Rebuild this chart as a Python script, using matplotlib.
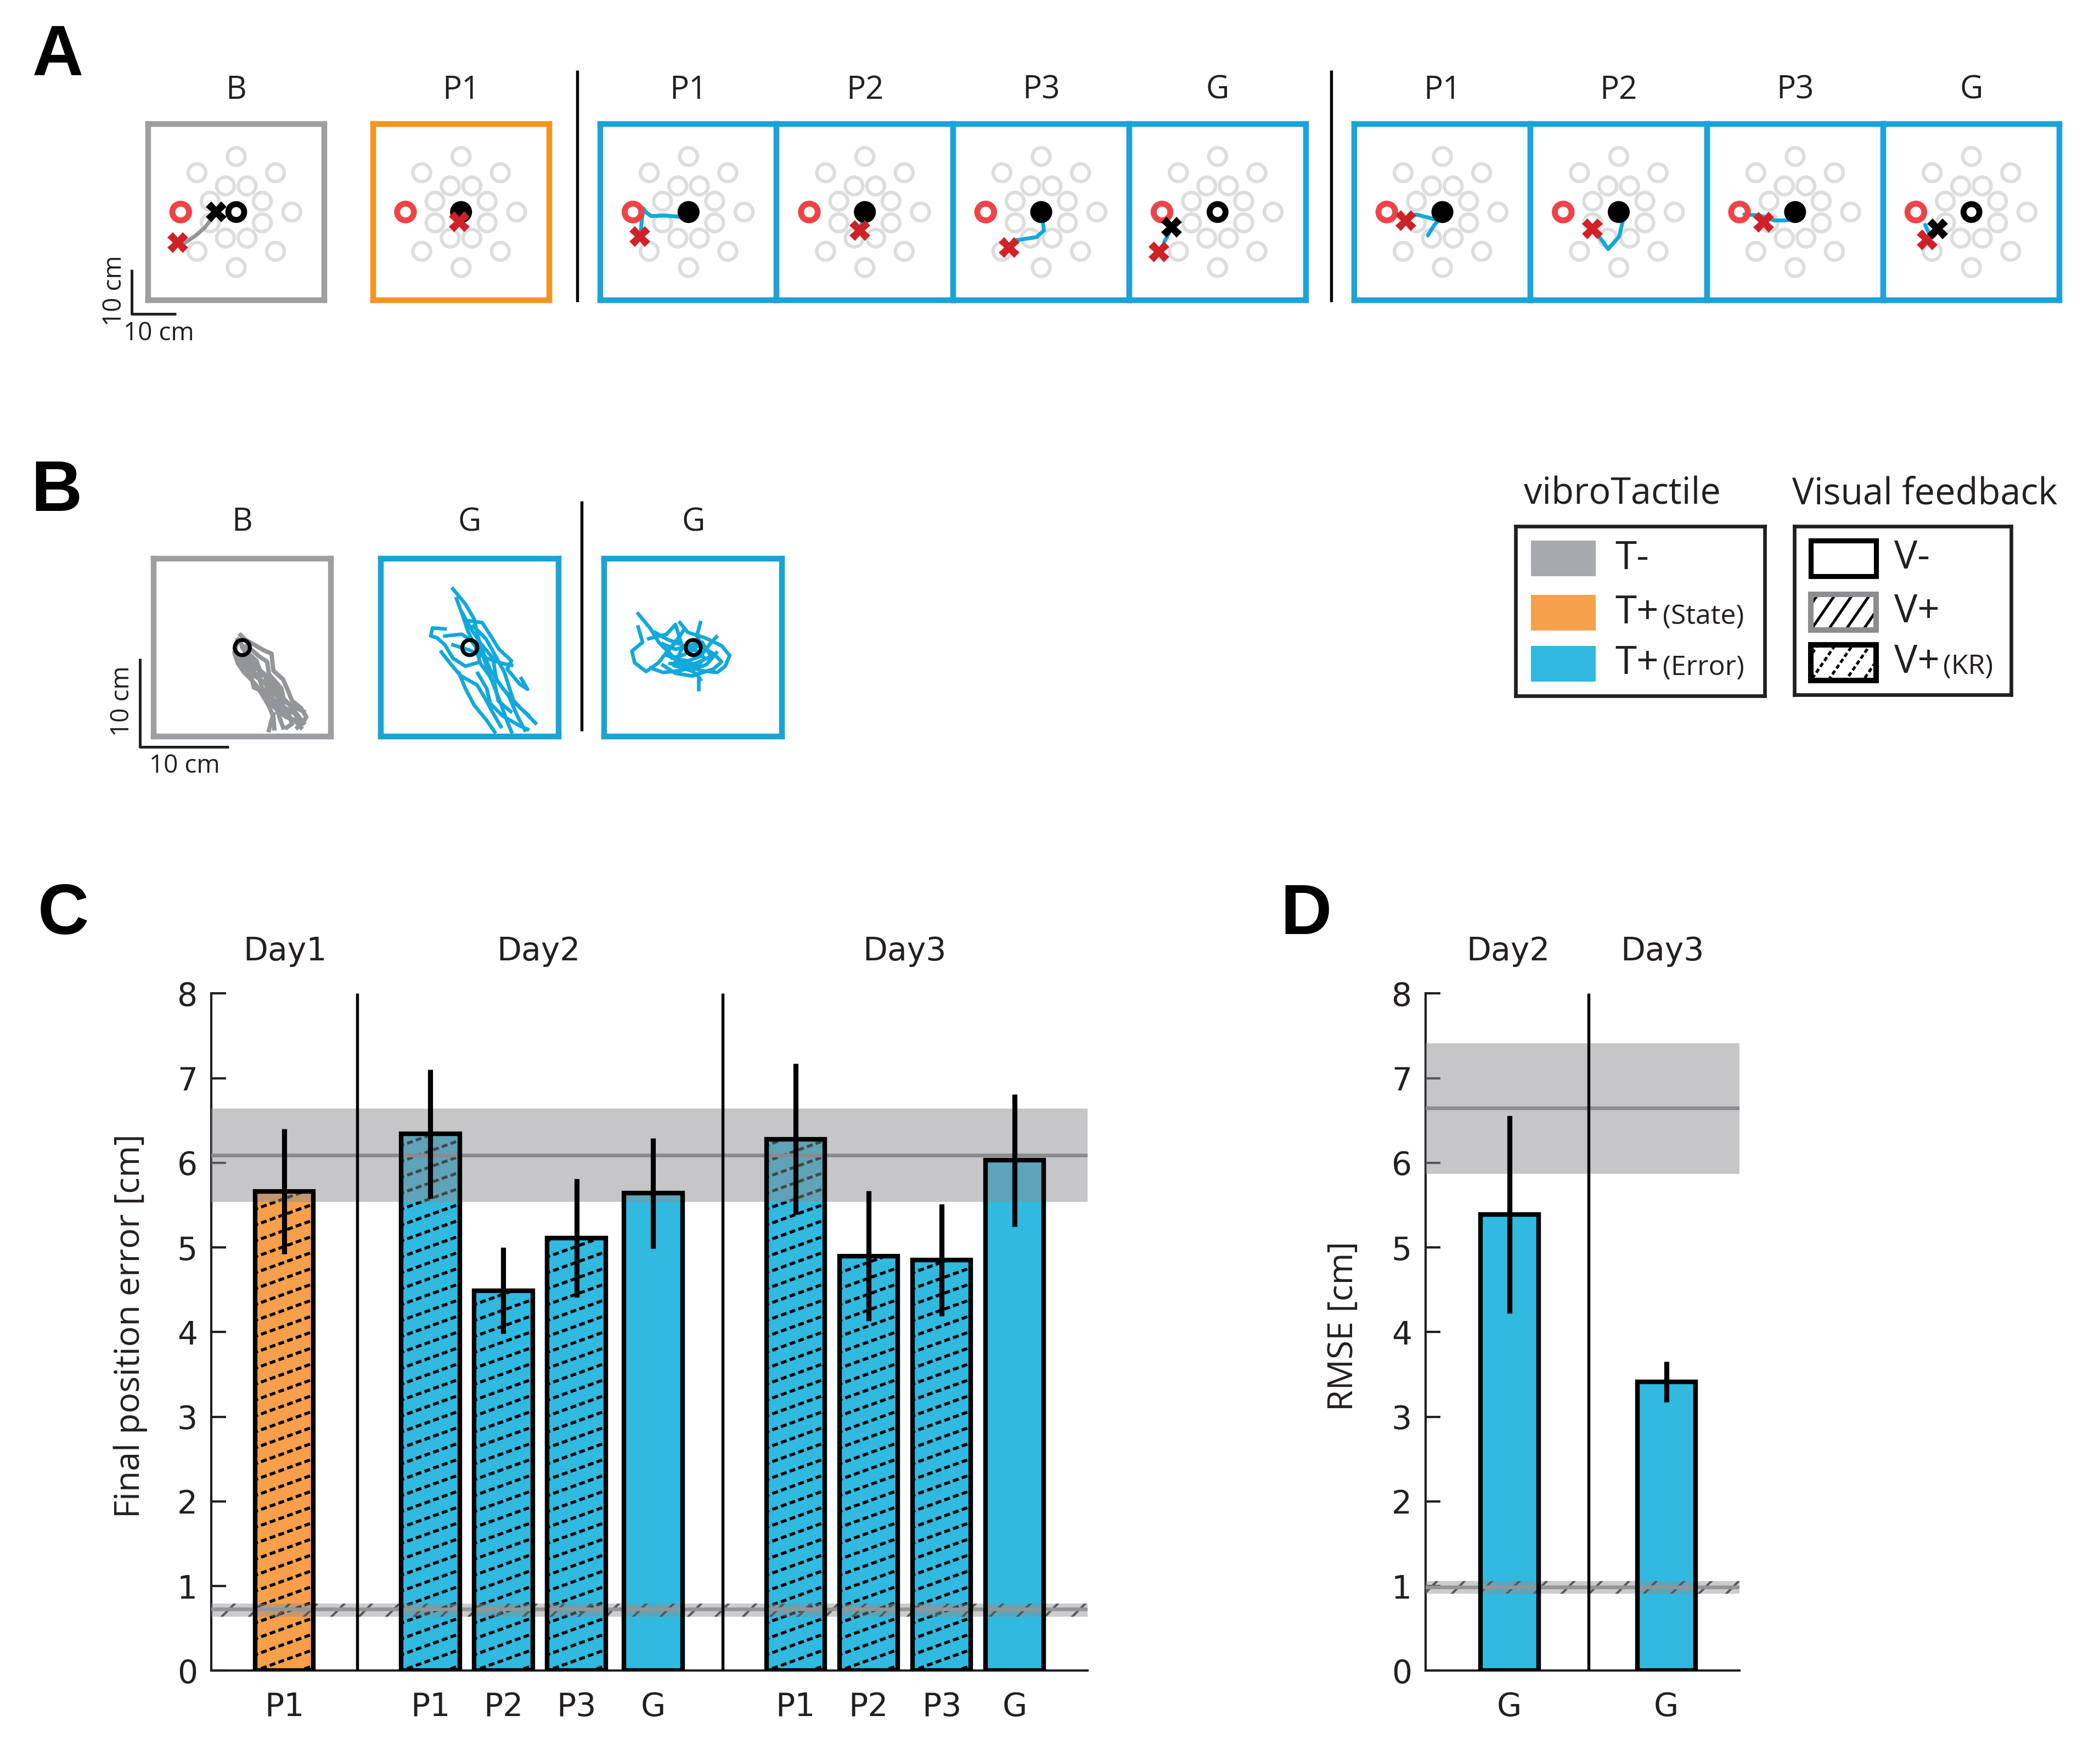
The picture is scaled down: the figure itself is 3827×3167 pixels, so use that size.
import numpy as np
import matplotlib
matplotlib.use("Agg")
import matplotlib.pyplot as plt
from matplotlib.patches import Rectangle, Circle
from matplotlib.lines import Line2D
from matplotlib.transforms import IdentityTransform, blended_transform_factory

# ----------------------------------------------------------------- data ----
# Panel C: final position error [cm]
c_days = ["Day1", "Day2", "Day3"]
c_labels = ["P1", "P1", "P2", "P3", "G", "P1", "P2", "P3", "G"]
c_tactile = ["state", "error", "error", "error", "error", "error", "error", "error", "error"]
c_visual = ["KR", "KR", "KR", "KR", "none", "KR", "KR", "KR", "none"]
c_mean = [5.66, 6.34, 4.49, 5.11, 5.64, 6.28, 4.90, 4.85, 6.03]
c_sem = [0.74, 0.76, 0.51, 0.70, 0.65, 0.89, 0.77, 0.66, 0.78]
c_ref_none = [5.54, 6.09, 6.64]    # T-/V- reference: low, mean, high
c_ref_vis = [0.64, 0.73, 0.79]     # T-/V+ reference: low, mean, high

# Panel D: RMSE [cm]
d_days = ["Day2", "Day3"]
d_labels = ["G", "G"]
d_mean = [5.39, 3.41]
d_sem = [1.17, 0.24]
d_ref_none = [5.87, 6.65, 7.41]
d_ref_vis = [0.91, 0.99, 1.06]

# Panel A: example trials (cm, box centre = 0,0)
a_titles = ["B", "P1", "P1", "P2", "P3", "G", "P1", "P2", "P3", "G"]
a_tactile = ["none", "state", "error", "error", "error", "error", "error", "error", "error", "error"]
a_home_filled = [False, True, True, True, True, False, True, True, True, False]
a_red_cross = [(-13.3, -6.9), (-0.4, -2.2), (-11.0, -5.5), (-1.2, -4.2), (-7.3, -8.0),
               (-13.3, -9.1), (-8.3, -1.9), (-6.0, -3.8), (-7.2, -2.3), (-10.0, -6.3)]
a_black_cross = [(-4.6, 0.0), None, None, None, None, (-10.4, -3.4), None, None, None, (-7.7, -3.8)]
a_paths = [
    [(-12.0, -7.2), (-9.4, -5.5), (-7.2, -3.6), (-5.5, -1.4)],
    [],
    [(-1.8, -1.1), (-5.2, -0.8), (-8.5, -0.9), (-9.7, 0.0), (-10.2, 0.8), (-10.6, -1.7), (-10.8, -4.2)],
    [(-0.9, -3.0), (-0.3, -1.7)],
    [(-5.6, -6.4), (-1.1, -5.7), (0.6, -4.2), (0.3, -1.7), (0.0, -0.9)],
    [(-12.1, -6.8), (-11.0, -4.7)],
    [(-3.3, -5.3), (-1.8, -2.9), (-0.9, -1.9), (-3.0, -1.3), (-5.8, -0.6), (-7.5, -0.8)],
    [(1.0, -1.7), (0.1, -5.5), (-2.4, -8.4), (-3.9, -6.3), (-5.6, -4.2)],
    [(-11.5, -0.5), (-8.1, -0.8), (-4.7, -1.9), (-1.8, -1.9), (-0.7, -1.3)],
    [(-10.5, -2.9), (-9.5, -5.1)],
]
target_outer_r = 12.6
target_inner_r = 6.4
target_red_angle = 180.0

# Panel B: tracking trajectories (cm)
b_titles = ["B", "G", "G"]
b_tactile = ["none", "error", "error"]
b_paths = [
    [
        [(-0.2, 1.4), (0.3, 0.9), (1.2, 0.4), (2.4, -0.3), (3.3, -0.7), (3.4, -1.8), (3.5, -2.6), (4.6, -3.6),
         (5.2, -5.0), (5.6, -6.0), (6.6, -6.8), (7.2, -7.8), (6.8, -8.5), (6.2, -9.0)],
        [(-0.6, 0.6), (-0.9, -0.6), (-0.5, -1.8), (0.2, -2.8), (1.0, -3.6), (1.6, -4.3), (2.3, -5.4),
         (3.0, -6.6), (3.5, -7.8), (3.6, -9.1)],
        [(0.0, 0.0), (0.8, -1.2), (1.6, -2.2), (2.5, -3.0), (2.9, -4.3), (3.8, -5.2), (4.4, -6.5),
         (5.2, -7.4), (5.6, -8.6), (5.0, -9.0)],
        [(0.3, -0.5), (1.1, -1.9), (1.4, -3.2), (2.6, -4.0), (3.2, -5.6), (4.0, -6.3), (4.6, -7.6),
         (5.9, -8.2), (6.6, -9.0)],
        [(-0.4, -1.0), (0.6, -2.0), (1.9, -2.5), (2.0, -3.8), (3.6, -4.4), (4.1, -5.8), (4.8, -6.8),
         (6.0, -7.5), (6.4, -8.4)],
        [(0.5, 0.2), (1.9, -1.0), (2.8, -1.6), (3.0, -3.0), (4.4, -4.6), (4.7, -6.0), (5.5, -6.5), (6.9, -7.2)],
        [(-0.8, -0.2), (-0.2, -1.5), (0.9, -2.9), (1.3, -4.5), (2.5, -5.0), (2.9, -6.0), (3.9, -7.0),
         (4.3, -8.2), (4.6, -9.0)],
        [(3.5, -7.5), (3.2, -8.5), (3.0, -9.3)],
        [(0.2, -1.0), (1.0, -2.6), (2.0, -3.3), (2.2, -4.6), (3.3, -5.2), (3.6, -6.2), (4.9, -7.8), (5.8, -8.1)],
        [(-0.5, 0.9), (0.6, -0.6), (1.6, -1.5), (2.1, -2.9), (3.1, -3.6), (3.9, -4.5), (4.2, -5.3), (5.1, -6.2),
         (6.3, -7.7), (6.9, -8.5)],
    ],
    [
        [(-1.9, 6.6), (-0.5, 4.9), (0.5, 3.2), (0.9, 1.3), (1.4, -0.3), (2.3, -2.5), (3.7, -4.6), (5.6, -6.7),
         (7.4, -8.5)],
        [(-2.8, 2.1), (-4.2, 2.2), (-4.4, 1.3), (-3.7, 1.1), (-2.8, 0.3), (-1.9, -1.2), (-0.5, -2.1), (0.9, -1.7)],
        [(-1.2, -2.9), (-0.5, -4.6), (0.5, -6.5), (1.9, -8.2), (2.8, -9.5)],
        [(0.0, 3.0), (1.4, 2.8), (2.3, 1.4), (3.3, -0.2), (4.7, -1.5), (4.2, -2.4), (5.6, -4.1), (6.5, -4.7),
         (5.8, -3.5)],
        [(-2.8, 1.3), (-0.9, 1.5), (0.0, 0.9), (1.4, -0.7), (2.3, -3.3), (3.3, -5.8), (4.2, -8.3), (4.7, -9.5)],
        [(0.9, -2.9), (1.9, -4.6), (2.3, -6.3), (3.7, -7.7), (5.6, -8.8), (6.5, -9.2)],
        [(-1.9, 0.3), (0.0, -0.3), (1.9, -1.2), (3.7, -1.8), (4.7, -2.0)],
        [(-0.9, 4.0), (0.2, 2.0), (1.2, 0.5), (2.6, -1.2), (3.0, -3.6), (4.4, -5.5), (5.4, -7.8), (6.2, -9.3)],
        [(-3.2, -0.5), (-2.2, -1.8), (-1.0, -3.2), (0.8, -4.2), (1.6, -5.5), (2.4, -7.0), (3.5, -8.9)],
        [(0.4, 2.4), (1.8, 1.0), (2.6, -0.4), (3.9, -2.8), (4.6, -5.0), (5.0, -6.2), (6.6, -7.6)],
        [(-1.5, 5.5), (-0.8, 3.6), (-0.2, 1.8), (0.6, 0.2), (1.2, -1.8), (2.8, -4.0), (3.2, -6.0), (4.6, -7.2)],
    ],
    [
        [(-6.2, 3.8), (-4.8, 2.1), (-3.9, 0.6), (-2.4, -0.9), (-1.0, -2.1), (0.4, -3.0), (0.8, -3.6)],
        [(-6.2, 2.3), (-5.7, 0.6), (-6.9, -0.4), (-6.6, -1.7), (-5.3, -2.7), (-3.9, -1.7), (-2.9, -0.4),
         (-1.5, 1.3), (-1.0, 2.1)],
        [(-1.5, 2.8), (-0.6, 1.7), (1.3, 1.1), (3.2, 0.2), (4.1, -0.9), (3.6, -2.1), (2.7, -2.8), (0.8, -2.6),
         (-1.0, -1.7), (-2.9, -0.9)],
        [(0.8, 2.8), (0.4, 1.3), (1.1, 0.0), (2.3, -0.7), (3.2, -1.6), (2.3, -2.4), (-0.1, -3.2), (-2.0, -2.9),
         (-3.4, -2.0)],
        [(-4.3, 1.7), (-2.9, 0.9), (-1.0, 0.2), (0.4, -0.4), (1.3, -1.2), (0.4, -2.1), (-1.5, -2.6),
         (-3.4, -2.8), (-4.8, -2.3)],
        [(0.6, -3.4), (0.6, -4.7)],
        [(-3.4, 0.4), (-2.0, -0.2), (-0.6, 0.1), (0.4, 0.6), (-1.0, -0.8), (-2.4, -1.2), (-0.6, -1.5),
         (0.8, -1.0), (1.8, 0.3), (2.6, 1.2)],
        [(-5.0, 1.0), (-3.0, 1.5), (-2.0, 2.6), (-1.2, 0.0), (-2.2, -2.0), (-0.3, -2.6), (1.5, -1.9), (2.6, -0.6)],
        [(-3.0, -0.6), (-1.8, 0.8), (-0.4, -0.6), (1.0, 0.6), (2.0, -1.0), (0.2, -1.8), (-2.6, -1.8)],
    ],
]

# ------------------------------------------------------------- styling ----
ORANGE = "#f6a04b"
BLUE = "#31b9e0"
GRAY_T = "#a7a9ac"
BOX_COL = {"none": "#9d9fa2", "state": "#f7931e", "error": "#1aa3d9"}
BAR_COL = {"state": ORANGE, "error": BLUE}
TRAJ_COL = {"none": "#939598", "error": "#12a8dc"}
RED_RING = "#ee4347"
RED_X = "#cf2127"
TXT = "#231f20"
BAND_GRAY = "#8e8f92"

W, H, DPI = 3827, 3167, 300
fig = plt.figure(figsize=(W / DPI, H / DPI), dpi=DPI)
DW, DH = 1560.0, 1291.0   # layout frame


def fx(x):
    return x / DW


def fy(y):
    return 1.0 - y / DH


def axes_px(x0, y0, x1, y1):
    return fig.add_axes([fx(x0), fy(y1), (x1 - x0) / DW, (y1 - y0) / DH])


def fig_line(xs, ys, lw=1.3, color="black"):
    fig.add_artist(Line2D([fx(v) for v in xs], [fy(v) for v in ys], lw=lw, color=color,
                          transform=fig.transFigure, solid_capstyle="butt"))


LAB_FONT = ["Open Sans", "DejaVu Sans"]
NUM_FONT = ["DejaVu Sans"]


def clipped_hatch(ax, patch, rect_disp, sv, slope, lw=1.3, ls=(0, (2.0, 1.1)), color="black", z=2.2):
    x0, y0, x1, y1 = rect_disp
    w = x1 - x0
    k0 = int(np.floor(-(slope * w + 20) / sv)) - 1
    k1 = int(np.ceil((y1 - y0 + 20) / sv)) + 1
    for k in range(k0, k1):
        yb = y0 + k * sv
        ln = Line2D([x0 - 5, x1 + 5], [yb - 5 * slope, yb + slope * (w + 5)], lw=lw, color=color,
                    linestyle=ls, transform=IdentityTransform(), zorder=z)
        ax.add_artist(ln)
        ln.set_clip_path(patch)


def box_axes(x0, y0, size, lim, edge):
    ax = axes_px(x0, y0, x0 + size, y0 + size)
    ax.set_xlim(-lim, lim)
    ax.set_ylim(-lim, lim)
    ax.set_xticks([])
    ax.set_yticks([])
    for s in ax.spines.values():
        s.set_color(edge)
        s.set_linewidth(2.5)
    return ax


# --------------------------------------------------------------- panel A ----
a_left = [110, 277, 446, 577, 708, 839, 1006, 1137, 1268, 1399]
a_top, a_size = 92, 131
for i, x0 in enumerate(a_left):
    ax = box_axes(x0, a_top, a_size, 20, BOX_COL[a_tactile[i]])
    for ring, off in ((target_outer_r, 0.0), (target_inner_r, 22.5)):
        for ang in np.arange(8) * 45.0 + off:
            if ring == target_outer_r and ang == target_red_angle:
                continue
            ax.add_patch(Circle((ring * np.cos(np.radians(ang)), ring * np.sin(np.radians(ang))), 2.0,
                                fill=False, ec="#dcddde", lw=1.5, zorder=1))
    ax.add_patch(Circle((target_outer_r * np.cos(np.radians(target_red_angle)),
                         target_outer_r * np.sin(np.radians(target_red_angle))), 1.9,
                        fill=False, ec=RED_RING, lw=2.6, zorder=3))
    if a_home_filled[i]:
        ax.add_patch(Circle((0, 0), 2.1, fc="black", ec="black", lw=1.5, zorder=3))
    else:
        ax.add_patch(Circle((0, 0), 1.8, fill=False, ec="black", lw=2.6, zorder=3))
    path = a_paths[i]
    if path:
        px, py = zip(*path)
        col = TRAJ_COL["none"] if a_tactile[i] == "none" else TRAJ_COL["error"]
        ax.plot(px, py, color=col, lw=1.7, zorder=2, solid_capstyle="round")
    rx, ry = a_red_cross[i]
    ax.plot([rx], [ry], marker="X", ms=9, color=RED_X, mew=0, zorder=5)
    if a_black_cross[i] is not None:
        bx, by = a_black_cross[i]
        ax.plot([bx], [by], marker="X", ms=9, color="black", mew=0, zorder=5)
    fig.text(fx(x0 + a_size / 2), fy(67), a_titles[i], ha="center", va="center", fontsize=14,
             family=LAB_FONT, color=TXT)

fig_line([429, 429], [52, 224])
fig_line([989, 989], [52, 224])
# scale bar
fig_line([98, 98, 131], [200, 233, 233], lw=1.2, color=TXT)
fig.text(fx(85), fy(216), "10 cm", rotation=90, ha="center", va="center", fontsize=11, family=LAB_FONT, color=TXT)
fig.text(fx(118), fy(248), "10 cm", ha="center", va="center", fontsize=11, family=LAB_FONT, color=TXT)

# --------------------------------------------------------------- panel B ----
b_left = [114, 283, 449]
b_top, b_size = 415, 132
for i, x0 in enumerate(b_left):
    ax = box_axes(x0, b_top, b_size, 10, BOX_COL[b_tactile[i]])
    col = TRAJ_COL[b_tactile[i]]
    for stroke in b_paths[i]:
        px, py = zip(*stroke)
        ax.plot(px, py, color=col, lw=1.9 if b_tactile[i] == "none" else 1.6, zorder=2,
                solid_joinstyle="round")
    ax.add_patch(Circle((0, 0), 0.85, fill=False, ec="black", lw=1.7, zorder=4))
    fig.text(fx(x0 + b_size / 2), fy(388), b_titles[i], ha="center", va="center", fontsize=14,
             family=LAB_FONT, color=TXT)
fig_line([432, 432], [372, 543])
fig_line([104, 104, 170], [489, 555, 555], lw=1.2, color=TXT)
fig.text(fx(91), fy(521), "10 cm", rotation=90, ha="center", va="center", fontsize=11, family=LAB_FONT, color=TXT)
fig.text(fx(137), fy(569), "10 cm", ha="center", va="center", fontsize=11, family=LAB_FONT, color=TXT)

# -------------------------------------------------------------- legend ------
fig.text(fx(1205), fy(367), "vibroTactile", ha="center", va="center", fontsize=16, family=LAB_FONT, color=TXT)
fig.text(fx(1430), fy(367), "Visual feedback", ha="center", va="center", fontsize=16, family=LAB_FONT, color=TXT)


def legend_axes(x0, y0, x1, y1):
    ax = axes_px(x0, y0, x1, y1)
    ax.set_xlim(0, 1)
    ax.set_ylim(0, 1)
    ax.set_xticks([])
    ax.set_yticks([])
    for s in ax.spines.values():
        s.set_linewidth(1.6)
        s.set_color(TXT)
    return ax


def two_part_label(ax, x, y, big, small):
    t = ax.text(x, y, big, ha="left", va="center", fontsize=17, family=LAB_FONT, color=TXT,
                transform=ax.transAxes)
    if small:
        ax.annotate(small, xy=(1.0, 0.05), xycoords=t, xytext=(1.5, 0), textcoords="offset points",
                    ha="left", va="bottom", fontsize=12, family=LAB_FONT, color=TXT)


row_y = [0.81, 0.49, 0.19]
ph = 0.21
lt = legend_axes(1126, 391, 1311, 517)
for yy, col, big, small in zip(row_y, [GRAY_T, ORANGE, BLUE], ["T-", "T+", "T+"], ["", "(State)", "(Error)"]):
    lt.add_patch(Rectangle((0.06, yy - ph / 2), 0.26, ph, fc=col, ec="none", transform=lt.transAxes))
    two_part_label(lt, 0.40, yy, big, small)

lv = legend_axes(1333, 391, 1494, 516)
lv.add_patch(Rectangle((0.076, row_y[0] - ph / 2), 0.30, ph, fc="white", ec="black", lw=2.2))
two_part_label(lv, 0.46, row_y[0], "V-", "")
p_vis = Rectangle((0.076, row_y[1] - ph / 2), 0.30, ph, fc="white", ec="none", lw=0)
lv.add_patch(p_vis)
lv.add_patch(Rectangle((0.076, row_y[1] - ph / 2), 0.30, ph, fill=False, ec="#8c8d90", lw=2.4, zorder=3))
two_part_label(lv, 0.46, row_y[1], "V+", "")
p_kr = Rectangle((0.076, row_y[2] - ph / 2), 0.30, ph, fc="white", ec="none", lw=0)
lv.add_patch(p_kr)
lv.add_patch(Rectangle((0.076, row_y[2] - ph / 2), 0.30, ph, fill=False, ec="black", lw=2.4, zorder=3))
two_part_label(lv, 0.46, row_y[2], "V+", "(KR)")

for patch, ls in ((p_vis, "-"), (p_kr, (0, (1.6, 1.0)))):
    bb = lv.transAxes.transform([[patch.get_x(), patch.get_y()],
                                 [patch.get_x() + patch.get_width(), patch.get_y() + patch.get_height()]])
    clipped_hatch(lv, patch, (bb[0, 0], bb[0, 1], bb[1, 0], bb[1, 1]), sv=46, slope=1.45, lw=1.2, ls=ls)


# ------------------------------------------------------------ bar panels ----
def bar_panel(ax, xpos, means, sems, tact, vis, width, xlim, ref_none, ref_vis, seps, days, day_x,
              labels, ylabel, ylab_xy):
    ax.set_xlim(*xlim)
    ax.set_ylim(0, 8)
    ax.set_autoscale_on(False)
    for s in ("top", "right"):
        ax.spines[s].set_visible(False)
    for s in ("left", "bottom"):
        ax.spines[s].set_linewidth(1.0)
        ax.spines[s].set_color(TXT)
    ax.set_yticks(range(0, 9))
    ax.tick_params(axis="y", direction="in", length=6.5, width=1.0, colors=TXT, labelsize=14, pad=6)
    ax.set_xticks(xpos)
    ax.set_xticklabels(labels)
    ax.tick_params(axis="x", length=0, pad=9, labelsize=14, colors=TXT)
    for lab in ax.get_xticklabels() + ax.get_yticklabels():
        lab.set_family(NUM_FONT)

    bars = ax.bar(xpos, means, width=width, color=[BAR_COL[t] for t in tact], edgecolor="none", zorder=2)
    for b, v in zip(bars, vis):
        if v == "KR":
            bb = ax.transData.transform([[b.get_x(), 0], [b.get_x() + b.get_width(), b.get_height()]])
            clipped_hatch(ax, b, (bb[0, 0], bb[0, 1], bb[1, 0], bb[1, 1]), sv=29, slope=0.36, lw=1.3,
                          ls=(0, (2.0, 1.1)), z=2.2)
    ax.bar(xpos, means, width=width, fill=False, edgecolor="black", lw=2.0, zorder=4)
    ax.errorbar(xpos, means, yerr=sems, fmt="none", ecolor="black", elinewidth=2.2, capsize=0, zorder=5)

    # reference bands (T- without / with visual feedback)
    ax.axhspan(ref_none[0], ref_none[2], fc=BAND_GRAY, alpha=0.5, lw=0, zorder=3)
    ax.axhline(ref_none[1], color="#8a8b8e", lw=1.6, zorder=3.1)
    ax.axhspan(ref_vis[0], ref_vis[2], fc=BAND_GRAY, alpha=0.45, lw=0, zorder=3)
    ax.axhspan(ref_vis[0], ref_vis[2], fill=False, hatch="//", ec="#58595b", lw=0, zorder=3.05)
    ax.axhline(ref_vis[1], color="#939598", lw=1.6, zorder=3.1)

    ax.vlines(seps, 0, 8, color="black", lw=1.3, zorder=6)
    tr = blended_transform_factory(ax.transData, ax.transAxes)
    for d, dx in zip(days, day_x):
        ax.text(dx, 1.062, d, transform=tr, ha="center", va="center", fontsize=14, family=NUM_FONT, color=TXT)
    fig.text(fx(ylab_xy[0]), fy(ylab_xy[1]), ylabel, rotation=90, ha="center", va="center", fontsize=15,
             family=LAB_FONT, color=TXT)


axC = axes_px(157, 738, 808, 1241)
c_x = [1, 3, 4, 5, 6.05, 8, 9, 10, 11]
bar_panel(axC, c_x, c_mean, c_sem, c_tactile, c_visual, 0.8, (0, 12), c_ref_none, c_ref_vis,
          [2, 7], c_days, [1.01, 4.48, 9.49], c_labels, "Final position error [cm]", (97, 985))

axD = axes_px(1059, 738, 1292, 1241)
d_x = [1.07, 3.07]
bar_panel(axD, d_x, d_mean, d_sem, ["error", "error"], ["none", "none"], 0.74, (0, 4), d_ref_none, d_ref_vis,
          [2.08], d_days, [1.05, 3.02], d_labels, "RMSE [cm]", (998, 985))

# panel letters
for letter, (x, y) in zip("ABCD", [(43, 42), (42, 366), (47, 680), (970, 680)]):
    fig.text(fx(x), fy(y), letter, ha="center", va="center", fontsize=31, fontweight="bold",
             family=["Liberation Sans", "DejaVu Sans"], color="black")

fig.savefig("out.png", dpi=DPI, facecolor="white")
